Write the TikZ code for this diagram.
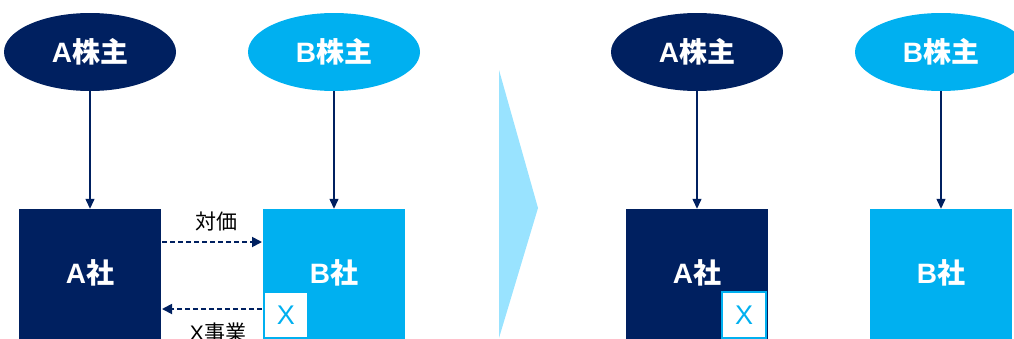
\documentclass[tikz,border=0pt]{standalone}
\usepackage{fontspec}
\setmainfont{Noto Sans CJK JP}
\newfontfamily\lat{Liberation Sans}
\usetikzlibrary{arrows.meta}
\definecolor{navy}{HTML}{002060}
\definecolor{sky}{HTML}{00B0F0}
\definecolor{chev}{HTML}{99E3FF}
\tikzset{
  bigtext/.style={text=white, inner sep=0pt, font=\bfseries\fontsize{28}{28}\selectfont},
  holder/.style={ellipse, minimum width=172pt, minimum height=78pt, inner sep=0pt, bigtext},
  company/.style={rectangle, minimum width=142pt, minimum height=131pt, inner sep=0pt},
  xbox/.style={rectangle, draw=sky, fill=white, line width=1.5pt, minimum width=44pt, minimum height=46pt, inner sep=0pt, text=sky, font=\lat\fontsize{27}{27}\selectfont},
  own/.style={draw=navy, line width=1.3pt, -{Triangle[length=10pt,width=9pt]}},
  flow/.style={draw=navy, line width=1.8pt, dash pattern=on 5pt off 3pt, -{Triangle[length=10pt,width=10pt]}},
  lbl/.style={font=\fontsize{21}{21}\selectfont, text=black, inner sep=0pt}
}
\usetikzlibrary{shapes.geometric}
\begin{document}
\begin{tikzpicture}[x=1pt,y=-1pt]
\useasboundingbox (0,0) rectangle (1014,338);
% left side
\node[holder, fill=navy] (ah1) at (90,52) {{\lat A}株主};
\node[holder, fill=sky] (bh1) at (334,52) {{\lat B}株主};
\node[company, fill=navy] (ac1) at (90,274.5) {};
\node[company, fill=sky] (bc1) at (334,274.5) {};
\node[bigtext] (act1) at (90,273) {{\lat A}社};
\node[bigtext] (bct1) at (334,273) {{\lat B}社};
\node[xbox] (x1) at (286,315) {X};
\draw[own] (ah1.south) -- (ac1.north);
\draw[own] (bh1.south) -- (bc1.north);
\coordinate (p1) at (162,242);
\coordinate (p2) at (262,242);
\coordinate (p3) at (262,309);
\coordinate (p4) at (162,309);
\draw[flow] (p1) -- (p2);
\draw[flow] (p3) -- (p4);
\node[lbl] (l1) at (216,222) {対価};
\node[lbl] (l2) at (218,333) {{\lat X}事業};
% chevron
\fill[chev] (499,70) -- (538,208) -- (499,338) -- cycle;
% right side
\node[holder, fill=navy] (ah2) at (697,52) {{\lat A}株主};
\node[holder, fill=sky] (bh2) at (941,52) {{\lat B}株主};
\node[company, fill=navy] (ac2) at (697,274.5) {};
\node[company, fill=sky] (bc2) at (941,274.5) {};
\node[bigtext] (act2) at (697,273) {{\lat A}社};
\node[bigtext] (bct2) at (941,273) {{\lat B}社};
\node[xbox] (x2) at (744,315) {X};
\draw[own] (ah2.south) -- (ac2.north);
\draw[own] (bh2.south) -- (bc2.north);
\end{tikzpicture}
\end{document}
